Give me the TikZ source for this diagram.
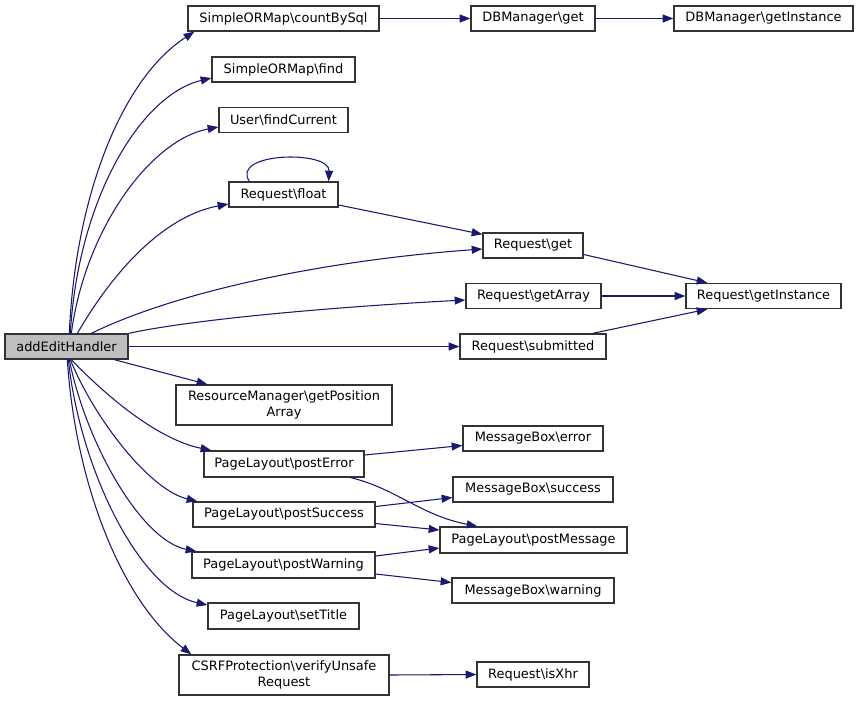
\documentclass[tikz,border=0pt]{standalone}
\usepackage{fontspec}
\setmainfont{DejaVu Sans}
\usetikzlibrary{arrows.meta,calc}
\definecolor{edgeblue}{HTML}{191970}
\definecolor{boxline}{HTML}{333333}
\definecolor{rootfill}{HTML}{BFBFBF}
\tikzset{
  nd/.style 2 args={draw=boxline, line width=1pt, rectangle, inner sep=0pt,
    minimum width=#1*0.75pt, minimum height=#2*0.75pt, align=center,
    font=\fontsize{9.7}{11.6}\selectfont, text=black},
  rootnd/.style={fill=rootfill},
  edge/.style={draw=edgeblue, line width=0.8pt,
    -{Triangle[length=8pt,width=6pt]}},
}
\begin{document}
\begin{tikzpicture}[x=0.75pt,y=-0.75pt]
\useasboundingbox (0,0) rectangle (859,701);
% nodes
\node[nd={123}{25},rootnd] (root) at (66.5,346.5) {addEditHandler};
\node[nd={191}{25}] (csql) at (283.5,18.5) {SimpleORMap\textbackslash countBySql};
\node[nd={124}{25}] (dbget) at (533,18.5) {DBManager\textbackslash get};
\node[nd={179}{25}] (dbinst) at (763.5,18.5) {DBManager\textbackslash getInstance};
\node[nd={143}{25}] (find) at (283.5,69.5) {SimpleORMap\textbackslash find};
\node[nd={129}{25}] (fcur) at (283.5,120) {User\textbackslash findCurrent};
\node[nd={109}{25}] (float) at (283.5,194.5) {Request\textbackslash float};
\node[nd={100}{25}] (rget) at (533,245.5) {Request\textbackslash get};
\node[nd={135}{25}] (garr) at (533.5,296) {Request\textbackslash getArray};
\node[nd={155}{25}] (ginst) at (763.5,296) {Request\textbackslash getInstance};
\node[nd={146}{25}] (sub) at (533,346.5) {Request\textbackslash submitted};
\node[nd={216}{40}] (resm) at (284,405) {ResourceManager\textbackslash getPosition\\Array};
\node[nd={160}{26}] (perr) at (284,464) {PageLayout\textbackslash postError};
\node[nd={140}{25}] (mbe) at (533,438.5) {MessageBox\textbackslash error};
\node[nd={182}{25}] (psuc) at (284,514.5) {PageLayout\textbackslash postSuccess};
\node[nd={160}{25}] (mbs) at (533,489.5) {MessageBox\textbackslash success};
\node[nd={187}{26}] (pmsg) at (533.5,540) {PageLayout\textbackslash postMessage};
\node[nd={183}{26}] (pwarn) at (283.5,565) {PageLayout\textbackslash postWarning};
\node[nd={162}{25}] (mbw) at (533,590.5) {MessageBox\textbackslash warning};
\node[nd={151}{26}] (stit) at (283.5,616) {PageLayout\textbackslash setTitle};
\node[nd={210}{40}] (csrf) at (284,675) {CSRFProtection\textbackslash verifyUnsafe\\Request};
\node[nd={112}{25}] (isx) at (533,674.5) {Request\textbackslash isXhr};
% edges from root (upwards)
\draw[edge] ($(root.north west)+(65,0)$) .. controls (75,200) and (120,80) .. ($(csql.south west)+(7,0)$);
\draw[edge] ($(root.north west)+(66,0)$) .. controls (78,200) and (140,95) .. ($(find.west)+(0,8.5)$);
\draw[edge] ($(root.north west)+(67,0)$) .. controls (85,230) and (150,140) .. ($(fcur.west)+(0,7)$);
\draw[edge] ($(root.north west)+(73,0)$) .. controls (120,260) and (170,215) .. ($(float.west)+(0,9.5)$);
\draw[edge] ($(root.north west)+(87,0)$) .. controls (180,290) and (330,260) .. ($(rget.west)+(0,3.5)$);
\draw[edge] (root.north east) .. controls (200,318) and (350,306) .. ($(garr.west)+(0,4)$);
\draw[edge] (root.east) -- (sub.west);
% edges from root (downwards)
\draw[edge] ($(root.south west)+(110,0)$) -- ($(resm.north west)+(32,0)$);
\draw[edge] ($(root.south west)+(67,0)$) .. controls (110,400) and (160,440) .. ($(perr.north west)+(8,0)$);
\draw[edge] ($(root.south west)+(66,0)$) .. controls (95,420) and (150,490) .. ($(psuc.north west)+(5,0)$);
\draw[edge] ($(root.south west)+(65,0)$) .. controls (85,440) and (140,540) .. ($(pwarn.north west)+(5,0)$);
\draw[edge] ($(root.south west)+(64,0)$) .. controls (80,470) and (140,590) .. ($(stit.west)+(0,-11)$);
\draw[edge] ($(root.south west)+(63,0)$) .. controls (75,480) and (120,600) .. ($(csrf.north west)+(13,0)$);
% other edges
\draw[edge] (csql.east) -- (dbget.west);
\draw[edge] (dbget.east) -- (dbinst.west);
\draw[edge] ($(float.north west)+(21,0)$) .. controls (230,152) and (330,150) .. ($(float.north east)+(-10,0)$);
\draw[edge] ($(float.east)+(0,10.5)$) -- ($(rget.north west)+(0,2)$);
\draw[edge] ($(rget.east)+(0,9)$) -- ($(ginst.north west)+(22,0)$);
\draw[edge] (garr.east) -- (ginst.west);
\draw[edge] ($(sub.north east)+(-14,0)$) -- ($(ginst.south west)+(22,0)$);
\draw[edge] ($(perr.east)+(0,-9)$) -- ($(mbe.west)+(0,7)$);
\draw[edge] ($(perr.south east)+(-14,0)$) .. controls (395,488) and (420,515) .. ($(pmsg.north west)+(38,0)$);
\draw[edge] ($(psuc.east)+(0,-8)$) -- ($(mbs.west)+(0,8)$);
\draw[edge] ($(psuc.east)+(0,9)$) -- ($(pmsg.west)+(0,-10)$);
\draw[edge] ($(pwarn.east)+(0,-9)$) -- ($(pmsg.west)+(0,8)$);
\draw[edge] ($(pwarn.east)+(0,9)$) -- ($(mbw.west)+(0,-8)$);
\draw[edge] (csrf.east) -- (isx.west);
\end{tikzpicture}
\end{document}
